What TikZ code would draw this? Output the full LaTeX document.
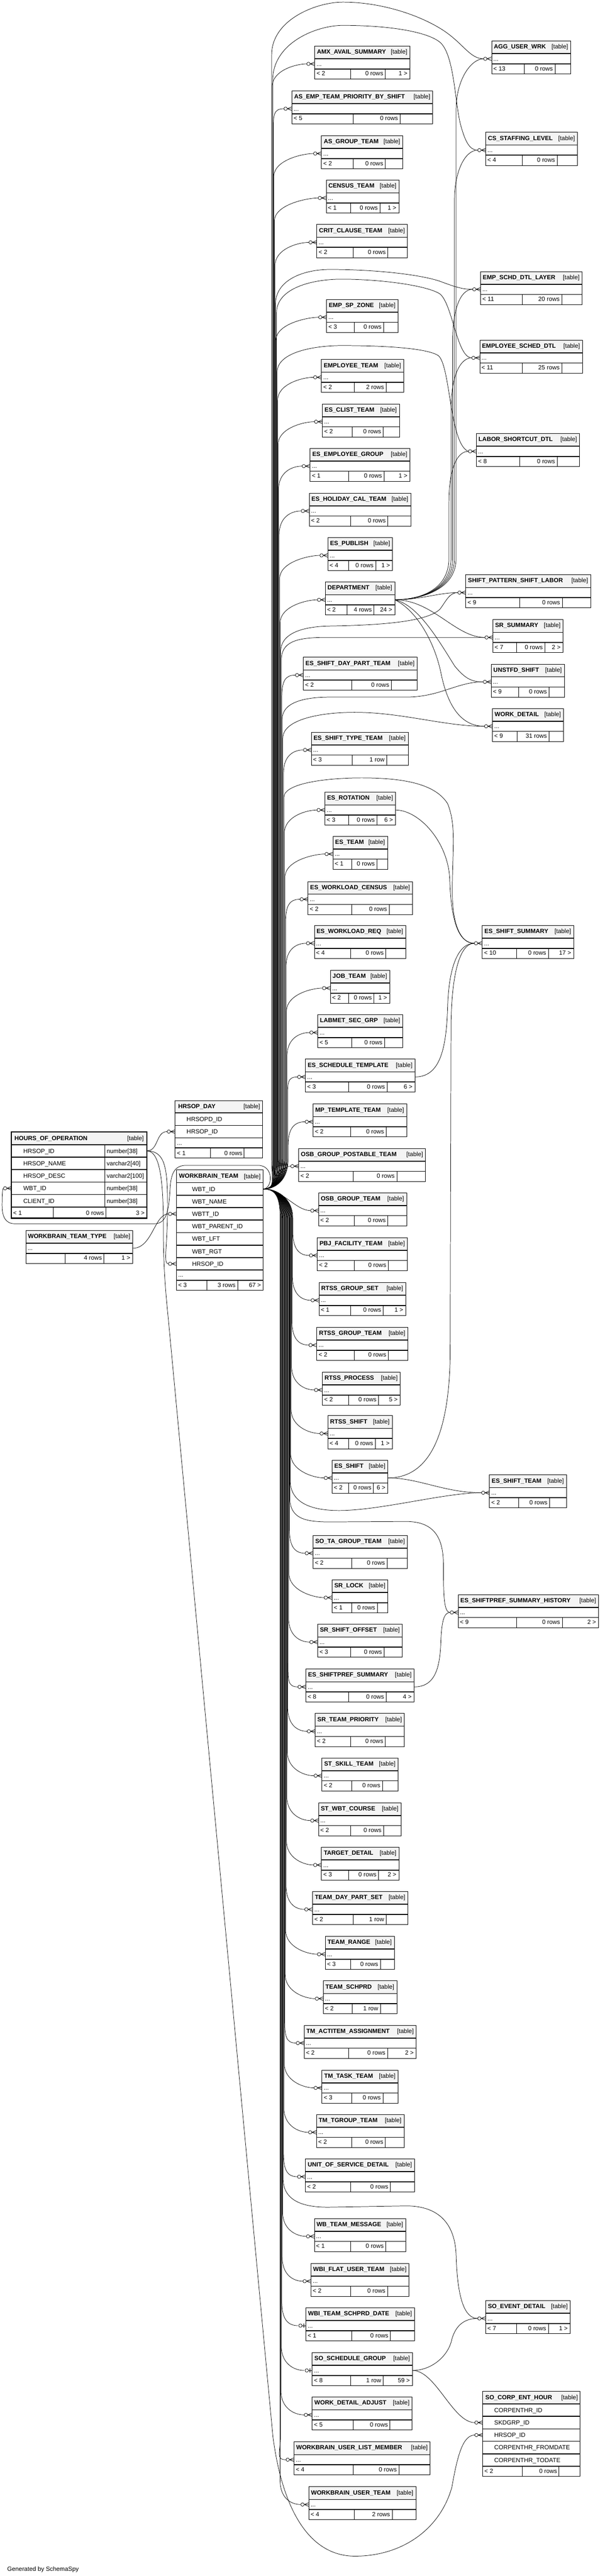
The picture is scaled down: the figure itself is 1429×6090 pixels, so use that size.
\documentclass[tikz,border=0pt]{standalone}
\usepackage{fontspec}
\setmainfont{Liberation Sans}
\definecolor{headbg}{HTML}{F4F4F4}
\newcommand{\tfont}{\fontsize{14.4}{17}\selectfont}
% table with a "..." row: id, left, top, right, name, cell1, cell2, parents, rows, children
\newcommand{\tbl}[9]{%
  \def\tid{#1}\def\txa{#2}\def\tya{#3}\def\txb{#4}\def\tname{#5}%
  \def\tca{#6}\def\tcb{#7}\def\tleft{#8}\def\trows{#9}\tblrest}
\newcommand{\tblrest}[1]{%
  \fill[white] (\txa,\tya) rectangle (\txb,\tya+78);
  \fill[headbg] (\txa,\tya) rectangle (\txb,\tya+30);
  \draw[rowsep] (\txa,\tya+30) -- (\txb,\tya+30) (\txa,\tya+54) -- (\txb,\tya+54);
  \draw[cellsep] (\tca,\tya+54) -- (\tca,\tya+78) (\tcb,\tya+54) -- (\tcb,\tya+78);
  \node[tablebox,minimum width={(\txb-\txa)*1pt},minimum height=78pt] (\tid) at (\txa,\tya) {};
  \node[txt,font=\tfont\bfseries] (\tid-n) at (\txa+5,\tya+18.5) {\tname};
  \node[txt,anchor=base east] (\tid-tb) at (\txb-6,\tya+18.5) {[table]};
  \node[txt] (\tid-d) at (\txa+4,\tya+47) {...};
  \node[txt] (\tid-l) at (\txa+4,\tya+70) {\tleft};
  \node[txt,anchor=base east] (\tid-c) at (\tcb-5,\tya+70) {\trows};
  \node[txt,anchor=base east] (\tid-r) at (\txb-6,\tya+70) {#1};
  \coordinate (\tid-w) at (\txa,\tya+42);
  \coordinate (\tid-in) at (\txa-19,\tya+42);
  \coordinate (\tid-out) at (\txb,\tya+42);
}

\begin{document}
\begin{tikzpicture}[x=1pt,y=-1pt,
    tablebox/.style={draw,line width=1.2pt,anchor=north west,inner sep=0pt,outer sep=0pt},
    rowsep/.style={line width=2pt},
    cellsep/.style={line width=1.2pt},
    txt/.style={anchor=base west,inner sep=0pt,font=\tfont},
    fk/.style={line width=0.9pt},
    crowfoot/.pic={\draw[fk,fill=white] (-15,0) circle (4pt);
      \draw[fk] (-11,0) -- (0,0) (-11,0) -- (0,-4.5) (-11,0) -- (0,4.5);},
    zeroone/.pic={\draw[fk,fill=white] (-13,0) circle (4pt);
      \draw[fk] (-9,0) -- (0,0); \draw[line width=1.6pt] (-5,-5) -- (-5,5);}]
  \fill[white] (0,0) rectangle (1429,6090);
  \useasboundingbox (0,0) rectangle (1429,6090);

  % HOURS_OF_OPERATION
  \fill[white] (27,2676) rectangle (347,2880);
  \fill[headbg] (27,2676) rectangle (347,2706);
  \foreach \yy in {2706,2735.5,2765,2794.5,2824,2853.5} \draw[rowsep] (27,\yy) -- (347,\yy);
  \draw[cellsep] (248,2706) -- (248,2853.5) (126,2853.5) -- (126,2880) (250,2853.5) -- (250,2880);
  \node[tablebox,line width=3pt,minimum width=320pt,minimum height=204pt] (hoo) at (27,2676) {};
  \node[txt,font=\tfont\bfseries] (hoo-n) at (34,2695.5) {HOURS\_OF\_OPERATION};
  \node[txt,anchor=base east] (hoo-tb) at (340,2696) {[table]};
  \foreach \nm/\ty [count=\i] in {HRSOP\_ID/number[38],HRSOP\_NAME/varchar2[40],HRSOP\_DESC/varchar2[100],WBT\_ID/number[38],CLIENT\_ID/number[38]} {
    \node[txt] (hoo-col\i) at (55,2696.5+\i*29.5) {\nm};
    \node[txt] (hoo-typ\i) at (252,2696.5+\i*29.5) {\ty};
  }
  \node[txt] (hoo-l) at (31,2872.5) {< 1};
  \node[txt,anchor=base east] (hoo-cnt) at (246,2872.5) {0 rows};
  \node[txt,anchor=base east] (hoo-r) at (342,2872.5) {3 >};
  \coordinate (hoo-hrs) at (347,2720.75);
  \coordinate (hoo-wbt-w) at (27,2809.25);
  \coordinate (hoo-wbt-in) at (8,2809.25);

  % HRSOP_DAY
  \fill[white] (414,2602) rectangle (621,2738);
  \fill[headbg] (414,2602) rectangle (621,2631);
  \draw[rowsep] (414,2631) -- (621,2631) (414,2660.5) -- (621,2660.5) (414,2690) -- (621,2690) (414,2714) -- (621,2714);
  \draw[cellsep] (497,2714) -- (497,2738) (577,2714) -- (577,2738);
  \node[tablebox,minimum width=207pt,minimum height=136pt] (hday) at (414,2602) {};
  \node[txt,font=\tfont\bfseries] (hday-n) at (421,2620) {HRSOP\_DAY};
  \node[txt,anchor=base east] (hday-tb) at (615,2620) {[table]};
  \node[txt] (hday-col1) at (441,2651) {HRSOPD\_ID};
  \node[txt] (hday-col2) at (441,2680.5) {HRSOP\_ID};
  \node[txt] (hday-d) at (418,2707) {...};
  \node[txt] (hday-l) at (418,2731) {< 1};
  \node[txt,anchor=base east] (hday-cnt) at (573,2731) {0 rows};
  \coordinate (hday-hrs-w) at (414,2675.25);
  \coordinate (hday-hrs-in) at (395,2675.25);

  % WORKBRAIN_TEAM
  \fill[white] (417,2766) rectangle (622,3050.5);
  \fill[headbg] (417,2766) rectangle (622,2796);
  \foreach \yy in {2796,2825.5,2855,2884.5,2914,2943.5,2973,3002.5,3026.5} \draw[rowsep] (417,\yy) -- (622,\yy);
  \draw[cellsep] (489,3026.5) -- (489,3050.5) (562,3026.5) -- (562,3050.5);
  \node[tablebox,minimum width=205pt,minimum height=284.5pt] (wt) at (417,2766) {};
  \node[txt,font=\tfont\bfseries] (wt-n) at (423,2785.5) {WORKBRAIN\_TEAM};
  \node[txt,anchor=base east] (wt-tb) at (616,2786) {[table]};
  \foreach \nm [count=\i] in {WBT\_ID,WBT\_NAME,WBTT\_ID,WBT\_PARENT\_ID,WBT\_LFT,WBT\_RGT,HRSOP\_ID}
    \node[txt] (wt-col\i) at (454,2786.5+\i*29.5) {\nm};
  \node[txt] (wt-d) at (421,3019) {...};
  \node[txt] (wt-l) at (421,3043.5) {< 3};
  \node[txt,anchor=base east] (wt-cnt) at (557,3043.5) {3 rows};
  \node[txt,anchor=base east] (wt-r) at (617,3043.5) {67 >};
  \coordinate (wt-out) at (622,2810.75);
  \coordinate (wt-wbtt-w) at (417,2869.75);
  \coordinate (wt-wbtt-in) at (398,2869.75);
  \coordinate (wt-hrs-w) at (417,2987.75);
  \coordinate (wt-hrs-in) at (398,2987.75);

  % SO_CORP_ENT_HOUR
  \fill[white] (1141,5653) rectangle (1371,5854.5);
  \fill[headbg] (1141,5653) rectangle (1371,5683);
  \foreach \yy in {5683,5712.5,5742,5771.5,5801,5830.5} \draw[rowsep] (1141,\yy) -- (1371,\yy);
  \draw[cellsep] (1235,5830.5) -- (1235,5854.5) (1321,5830.5) -- (1321,5854.5);
  \node[tablebox,minimum width=230pt,minimum height=201.5pt] (soc) at (1141,5653) {};
  \node[txt,font=\tfont\bfseries] (soc-n) at (1147,5672.5) {SO\_CORP\_ENT\_HOUR};
  \node[txt,anchor=base east] (soc-tb) at (1366,5673) {[table]};
  \foreach \nm [count=\i] in {CORPENTHR\_ID,SKDGRP\_ID,HRSOP\_ID,CORPENTHR\_FROMDATE,CORPENTHR\_TODATE}
    \node[txt] (soc-col\i) at (1168,5673.5+\i*29.5) {\nm};
  \node[txt] (soc-l) at (1145,5847.5) {< 2};
  \node[txt,anchor=base east] (soc-cnt) at (1317,5847.5) {0 rows};
  \coordinate (soc-skd-w) at (1141,5727.25);
  \coordinate (soc-skd-in) at (1122,5727.25);
  \coordinate (soc-hrs-w) at (1141,5756.75);
  \coordinate (soc-hrs-in) at (1122,5756.75);

  % left
  \tbl{wtt}{61}{2909}{314}{WORKBRAIN\_TEAM\_TYPE}{154}{246}{}{4 rows}{1 >}

  % middle column
  \tbl{amx}{744}{109}{969}{AMX\_AVAIL\_SUMMARY}{829}{911}{< 2}{0 rows}{1 >}
  \tbl{asemp}{690}{215}{1023}{AS\_EMP\_TEAM\_PRIORITY\_BY\_SHIFT}{835}{946}{< 5}{0 rows}{}
  \tbl{asgrp}{760}{321}{952}{AS\_GROUP\_TEAM}{835}{911}{< 2}{0 rows}{}
  \tbl{census}{771}{426}{943}{CENSUS\_TEAM}{829}{898}{< 1}{0 rows}{1 >}
  \tbl{crit}{749}{531}{963}{CRIT\_CLAUSE\_TEAM}{835}{917}{< 2}{0 rows}{}
  \tbl{spzone}{772}{708}{941}{EMP\_SP\_ZONE}{837}{907}{< 3}{0 rows}{}
  \tbl{empteam}{760}{850}{954}{EMPLOYEE\_TEAM}{837}{913}{< 2}{2 rows}{}
  \tbl{clist}{762}{955}{944}{ES\_CLIST\_TEAM}{833}{906}{< 2}{0 rows}{}
  \tbl{empgrp}{733}{1060}{969}{ES\_EMPLOYEE\_GROUP}{824}{908}{< 1}{0 rows}{1 >}
  \tbl{holcal}{731}{1166}{971}{ES\_HOLIDAY\_CAL\_TEAM}{829}{917}{< 2}{0 rows}{}
  \tbl{publish}{775}{1271}{928}{ES\_PUBLISH}{824}{888}{< 4}{0 rows}{1 >}
  \tbl{dept}{769}{1376}{933}{DEPARTMENT}{820}{884}{< 2}{4 rows}{24 >}
  \tbl{daypart}{717}{1554}{986}{ES\_SHIFT\_DAY\_PART\_TEAM}{831}{925}{< 2}{0 rows}{}
  \tbl{shtype}{736}{1731}{965}{ES\_SHIFT\_TYPE\_TEAM}{833}{914}{< 3}{1 row}{}
  \tbl{rotation}{768}{1873}{935}{ES\_ROTATION}{824}{891}{< 3}{0 rows}{6 >}
  \tbl{esteam}{787}{1977}{916}{ES\_TEAM}{831}{891}{< 1}{0 rows}{}
  \tbl{wlcensus}{728}{2084}{975}{ES\_WORKLOAD\_CENSUS}{831}{920}{< 2}{0 rows}{}
  \tbl{wlreq}{743}{2188}{959}{ES\_WORKLOAD\_REQ}{829}{912}{< 4}{0 rows}{}
  \tbl{jobteam}{781}{2294}{921}{JOB\_TEAM}{824}{884}{< 2}{0 rows}{1 >}
  \tbl{labmet}{751}{2399}{952}{LABMET\_SEC\_GRP}{831}{909}{< 5}{0 rows}{}
  \tbl{schtmpl}{722}{2504}{981}{ES\_SCHEDULE\_TEMPLATE}{824}{915}{< 3}{0 rows}{6 >}
  \tbl{mptmpl}{740}{2610}{961}{MP\_TEMPLATE\_TEAM}{829}{913}{< 2}{0 rows}{}
  \tbl{osbpost}{706}{2715}{1006}{OSB\_GROUP\_POSTABLE\_TEAM}{835}{938}{< 2}{0 rows}{}
  \tbl{osbgrp}{753}{2820}{961}{OSB\_GROUP\_TEAM}{837}{917}{< 2}{0 rows}{}
  \tbl{pbj}{750}{2926}{963}{PBJ\_FACILITY\_TEAM}{837}{918}{< 2}{0 rows}{}
  \tbl{rtssset}{754}{3032}{959}{RTSS\_GROUP\_SET}{829}{906}{< 1}{0 rows}{1 >}
  \tbl{rtssgrp}{749}{3138}{964}{RTSS\_GROUP\_TEAM}{837}{918}{< 2}{0 rows}{}
  \tbl{rtssproc}{762}{3244}{946}{RTSS\_PROCESS}{824}{895}{< 2}{0 rows}{5 >}
  \tbl{rtssshift}{775}{3347}{927}{RTSS\_SHIFT}{824}{887}{< 4}{0 rows}{1 >}
  \tbl{esshift}{785}{3452}{917}{ES\_SHIFT}{824}{883}{< 2}{0 rows}{6 >}
  \tbl{sota}{740}{3630}{963}{SO\_TA\_GROUP\_TEAM}{831}{915}{< 2}{0 rows}{}
  \tbl{srlock}{785}{3735}{917}{SR\_LOCK}{831}{892}{< 1}{0 rows}{}
  \tbl{sroffset}{751}{3840}{951}{SR\_SHIFT\_OFFSET}{829}{908}{< 3}{0 rows}{}
  \tbl{prefsum}{723}{3946}{979}{ES\_SHIFTPREF\_SUMMARY}{824}{913}{< 8}{0 rows}{4 >}
  \tbl{srprio}{745}{4051}{956}{SR\_TEAM\_PRIORITY}{829}{911}{< 2}{0 rows}{}
  \tbl{stskill}{761}{4156}{941}{ST\_SKILL\_TEAM}{831}{904}{< 2}{0 rows}{}
  \tbl{stwbt}{753}{4262}{948}{ST\_WBT\_COURSE}{829}{907}{< 2}{0 rows}{}
  \tbl{target}{760}{4367}{943}{TARGET\_DETAIL}{824}{895}{< 3}{0 rows}{2 >}
  \tbl{daypartset}{739}{4472}{964}{TEAM\_DAY\_PART\_SET}{835}{913}{< 2}{1 row}{}
  \tbl{range}{769}{4578}{932}{TEAM\_RANGE}{829}{899}{< 3}{0 rows}{}
  \tbl{schprd}{764}{4683}{938}{TEAM\_SCHPRD}{833}{899}{< 2}{1 row}{}
  \tbl{actitem}{719}{4788}{984}{TM\_ACTITEM\_ASSIGNMENT}{824}{916}{< 2}{0 rows}{2 >}
  \tbl{tmtask}{761}{4894}{941}{TM\_TASK\_TEAM}{831}{905}{< 3}{0 rows}{}
  \tbl{tmtgrp}{748}{4999}{955}{TM\_TGROUP\_TEAM}{831}{911}{< 2}{0 rows}{}
  \tbl{uos}{722}{5104}{980}{UNIT\_OF\_SERVICE\_DETAIL}{829}{923}{< 2}{0 rows}{}
  \tbl{wbmsg}{743}{5245}{959}{WB\_TEAM\_MESSAGE}{829}{912}{< 1}{0 rows}{}
  \tbl{wbiflat}{735}{5351}{967}{WBI\_FLAT\_USER\_TEAM}{829}{916}{< 2}{0 rows}{}
  \tbl{wbischprd}{723}{5456}{980}{WBI\_TEAM\_SCHPRD\_DATE}{831}{923}{< 1}{0 rows}{}
  \tbl{sosched}{738}{5562}{975}{SO\_SCHEDULE\_GROUP}{829}{906}{< 8}{1 row}{59 >}
  \tbl{wdadj}{738}{5667}{974}{WORK\_DETAIL\_ADJUST}{835}{922}{< 5}{0 rows}{}
  \tbl{ulist}{695}{5773}{1017}{WORKBRAIN\_USER\_LIST\_MEMBER}{835}{943}{< 4}{0 rows}{}
  \tbl{uteam}{730}{5879}{983}{WORKBRAIN\_USER\_TEAM}{837}{927}{< 4}{2 rows}{}

  % right column
  \tbl{agg}{1162}{97}{1349}{AGG\_USER\_WRK}{1239}{1312}{< 13}{0 rows}{}
  \tbl{csstaff}{1148}{313}{1365}{CS\_STAFFING\_LEVEL}{1235}{1317}{< 4}{0 rows}{}
  \tbl{schdlayer}{1136}{642}{1376}{EMP\_SCHD\_DTL\_LAYER}{1235}{1328}{< 11}{20 rows}{}
  \tbl{schddtl}{1134}{804}{1377}{EMPLOYEE\_SCHED\_DTL}{1234}{1328}{< 11}{25 rows}{}
  \tbl{labor}{1126}{1025}{1370}{LABOR\_SHORTCUT\_DTL}{1228}{1317}{< 8}{0 rows}{}
  \tbl{pattern}{1101}{1359}{1396}{SHIFT\_PATTERN\_SHIFT\_LABOR}{1228}{1329}{< 9}{0 rows}{}
  \tbl{srsum}{1165}{1465}{1331}{SR\_SUMMARY}{1221}{1288}{< 7}{0 rows}{2 >}
  \tbl{unstfd}{1161}{1570}{1334}{UNSTFD\_SHIFT}{1226}{1298}{< 9}{0 rows}{}
  \tbl{wdetail}{1164}{1675}{1332}{WORK\_DETAIL}{1222}{1298}{< 9}{31 rows}{}
  \tbl{shsum}{1140}{2188}{1356}{ES\_SHIFT\_SUMMARY}{1221}{1296}{< 10}{0 rows}{17 >}
  \tbl{shteam}{1157}{3487}{1339}{ES\_SHIFT\_TEAM}{1226}{1299}{< 2}{0 rows}{}
  \tbl{prefhist}{1083}{3770}{1415}{ES\_SHIFTPREF\_SUMMARY\_HISTORY}{1221}{1329}{< 9}{0 rows}{2 >}
  \tbl{sevent}{1148}{5439}{1348}{SO\_EVENT\_DETAIL}{1221}{1296}{< 7}{0 rows}{1 >}

  \node[txt] (gen) at (17,6078) {Generated by SchemaSpy};

  % WORKBRAIN_TEAM.WBT_ID up the trunk
  \foreach \tb/\yv/\xt in {amx/109/643,asemp/215/646,asgrp/321/647,census/426/648.5,crit/531/650,
      spzone/708/652,empteam/850/656,clist/955/657,empgrp/1060/658.5,holcal/1166/660,publish/1271/661,
      dept/1376/662,daypart/1554/666,shtype/1731/670,rotation/1873/672,esteam/1977/673.5,
      wlcensus/2084/675,wlreq/2188/676,jobteam/2294/677,labmet/2399/678.5,schtmpl/2504/680,mptmpl/2610/681}
    \draw[fk] (wt-out) .. controls +(30,0) and +(0,50) .. (\xt,2740) -- (\xt,\yv+97)
      .. controls +(0,-40) and +(-25,0) .. (\tb-in);
  % and down the trunk
  \foreach \tb/\yv/\xt in {pbj/2926/692,rtssset/3032/691,rtssgrp/3138/690,rtssproc/3244/689,
      rtssshift/3347/688,esshift/3452/687,sota/3630/684,srlock/3735/683,sroffset/3840/682,
      prefsum/3946/681,srprio/4051/680,stskill/4156/679,stwbt/4262/678,target/4367/677,
      daypartset/4472/676,range/4578/675,schprd/4683/674,actitem/4788/673,tmtask/4894/672,
      tmtgrp/4999/671,uos/5104/670,wbmsg/5245/668,wbiflat/5351/667,wbischprd/5456/666,
      sosched/5562/665,wdadj/5667/664,ulist/5773/663,uteam/5879/662}
    \draw[fk] (wt-out) .. controls +(30,0) and +(0,-50) .. (\xt,2880) -- (\xt,\yv-15)
      .. controls +(0,40) and +(-25,0) .. (\tb-in);
  \draw[fk] (wt-out) .. controls +(35,0) and +(-30,0) .. (osbpost-in);
  \draw[fk] (wt-out) .. controls +(45,0) and +(-35,0) .. (osbgrp-in);

  % arcs to the right column
  \draw[fk] (wt-out) .. controls +(30,0) and +(0,50) .. (642,2740) -- (642,130)
    .. controls (642,45) and (750,5) .. (810,5) .. controls (900,5) and (990,35) .. (1045,70)
    .. controls (1095,102) and (1110,139) .. (agg-in);
  \draw[fk] (wt-out) .. controls +(30,0) and +(0,50) .. (644.5,2740) -- (644.5,190)
    .. controls (644.5,100) and (750,60) .. (810,60) .. controls (920,60) and (1010,75) .. (1040,100)
    .. controls (1075,130) and (1075,250) .. (1090,300) .. controls (1100,335) and (1110,355) .. (csstaff-in);
  \draw[fk] (wt-out) .. controls +(30,0) and +(0,50) .. (651,2740) -- (651,720)
    .. controls (651,660) and (720,637) .. (780,637) .. controls (880,637) and (990,648) .. (1040,665)
    .. controls (1080,680) and (1095,684) .. (schdlayer-in);
  \draw[fk] (wt-out) .. controls +(30,0) and +(0,50) .. (653.5,2740) -- (653.5,740)
    .. controls (653.5,680) and (740,660) .. (807,660) .. controls (900,660) and (1010,675) .. (1040,695)
    .. controls (1070,720) and (1080,846) .. (schddtl-in);
  \draw[fk] (wt-out) .. controls +(30,0) and +(0,50) .. (655,2740) -- (655,880)
    .. controls (655,830) and (750,817) .. (807,817) .. controls (900,817) and (1005,822) .. (1035,840)
    .. controls (1065,860) and (1062,1050) .. (labor-in);
  \draw[fk] (wt-out) .. controls +(30,0) and +(0,50) .. (663.5,2740) -- (663.5,1540)
    .. controls (663.5,1495) and (720,1481) .. (780,1480) .. controls (900,1478) and (1010,1470) .. (1040,1440)
    .. controls (1055,1420) and (1062,1401) .. (pattern-in);
  \draw[fk] (wt-out) .. controls +(30,0) and +(0,50) .. (665,2740) -- (665,1560)
    .. controls (665,1518) and (700,1508) .. (760,1507) -- (srsum-in);
  \draw[fk] (wt-out) .. controls +(30,0) and +(0,50) .. (667,2740) -- (667,1700)
    .. controls (667,1660) and (720,1648) .. (780,1648) -- (960,1648)
    .. controls (1040,1648) and (1080,1612) .. (unstfd-in);
  \draw[fk] (wt-out) .. controls +(30,0) and +(0,50) .. (668.5,2740) -- (668.5,1745)
    .. controls (668.5,1700) and (760,1684) .. (838,1684) .. controls (950,1684) and (1050,1717) .. (wdetail-in);
  \draw[fk] (wt-out) .. controls +(30,0) and +(0,50) .. (671,2740) -- (671,1885)
    .. controls (671,1850) and (780,1839) .. (854,1839) .. controls (960,1839) and (1030,1855) .. (1058,1900)
    .. controls (1078,1950) and (1070,2000) .. (1069,2100) .. controls (1068,2190) and (1090,2230) .. (shsum-in);
  \draw[fk] (wt-out) .. controls +(30,0) and +(0,-50) .. (686,2880) -- (686,3500)
    .. controls (686,3555) and (740,3571) .. (801,3571) .. controls (900,3571) and (1050,3529) .. (shteam-in);
  \draw[fk] (wt-out) .. controls +(30,0) and +(0,-50) .. (685,2880) -- (685,3540)
    .. controls (685,3590) and (720,3598) .. (780,3598) -- (960,3597)
    .. controls (1030,3597) and (1048,3640) .. (1048,3700) .. controls (1048,3780) and (1050,3812) .. (prefhist-in);
  \draw[fk] (wt-out) .. controls +(30,0) and +(0,-50) .. (669,2880) -- (669,5150)
    .. controls (669,5205) and (720,5219) .. (780,5218) -- (960,5215)
    .. controls (1040,5215) and (1075,5260) .. (1078,5330) .. controls (1081,5440) and (1100,5481) .. (sevent-in);

  % DEPARTMENT
  \foreach \tb/\xv/\yi in {agg/1078/139,csstaff/1074/355,schdlayer/1070/684,schddtl/1066/846,labor/1061/1067}
    \draw[fk] (dept-out) .. controls +(50,0) and +(0,80) .. (\xv,1320) -- (\xv,\yi+120)
      .. controls +(0,-70) and +(-30,0) .. (\tb-in);
  \draw[fk] (dept-out) .. controls +(60,0) and +(-45,0) .. (pattern-in);
  \draw[fk] (dept-out) .. controls +(90,0) and +(-70,0) .. (srsum-in);
  \draw[fk] (dept-out) .. controls (990,1430) and (1040,1520) .. (1075,1575)
    .. controls (1100,1605) and (1115,1612) .. (unstfd-in);
  \draw[fk] (dept-out) .. controls (980,1440) and (1025,1510) .. (1042,1590)
    .. controls (1058,1670) and (1090,1717) .. (wdetail-in);

  % schedule tables
  \draw[fk] (rotation-out) .. controls (990,1915) and (1060,1990) .. (1063,2080)
    .. controls (1066,2180) and (1085,2230) .. (shsum-in);
  \draw[fk] (schtmpl-out) .. controls (1040,2546) and (1055,2480) .. (1058,2380)
    .. controls (1061,2280) and (1085,2230) .. (shsum-in);
  \draw[fk] (esshift-out) .. controls (1000,3494) and (1062,3420) .. (1064,3200) -- (1066,2420)
    .. controls (1068,2290) and (1090,2230) .. (shsum-in);
  \draw[fk] (esshift-out) .. controls (990,3494) and (1050,3529) .. (shteam-in);
  \draw[fk] (prefsum-out) .. controls (1030,3988) and (1040,3940) .. (1042,3880)
    .. controls (1044,3830) and (1050,3812) .. (prefhist-in);
  \draw[fk] (sosched-out) .. controls (1020,5604) and (1060,5570) .. (1068,5530)
    .. controls (1078,5495) and (1100,5481) .. (sevent-in);
  \draw[fk] (sosched-out) .. controls (1030,5604) and (1070,5727) .. (soc-skd-in);

  % HOURS_OF_OPERATION
  \draw[fk] (hoo-hrs) .. controls (375,2721) and (368,2675) .. (hday-hrs-in);
  \draw[fk] (hoo-hrs) .. controls (390,2721) and (396,2760) .. (396,2850)
    .. controls (396,2950) and (385,2988) .. (wt-hrs-in);
  \draw[fk] (hoo-hrs) .. controls (380,2721) and (386,2800) .. (386,2900)
    .. controls (386,3000) and (392,3060) .. (398,3120) -- (645,5760)
    .. controls (670,5950) and (740,6043) .. (839,6043) .. controls (950,6043) and (1040,5980) .. (1068,5880)
    .. controls (1082,5800) and (1095,5757) .. (soc-hrs-in);
  \draw[fk] (wtt-out) .. controls (360,2951) and (365,2870) .. (wt-wbtt-in);
  \draw[fk] (wt-out) .. controls (645,2810) and (648,2755) .. (610,2755) -- (440,2755)
    .. controls (412,2755) and (404,2775) .. (402,2810) .. controls (399,2860) and (395,2893) .. (365,2893)
    -- (35,2893) .. controls (12,2893) and (5,2875) .. (5,2850) .. controls (5,2825) and (6,2809) .. (hoo-wbt-in);

  % crow's feet
  \foreach \tb in {amx,asemp,asgrp,census,crit,spzone,empteam,clist,empgrp,holcal,publish,dept,daypart,
      shtype,rotation,esteam,wlcensus,wlreq,jobteam,labmet,schtmpl,mptmpl,osbpost,osbgrp,pbj,rtssset,
      rtssgrp,rtssproc,rtssshift,esshift,sota,srlock,sroffset,prefsum,srprio,stskill,stwbt,target,
      daypartset,range,schprd,actitem,tmtask,tmtgrp,uos,wbmsg,wbiflat,wdadj,ulist,uteam,
      agg,csstaff,schdlayer,schddtl,labor,pattern,srsum,unstfd,wdetail,shsum,shteam,prefhist,sevent,
      hday-hrs,wt-wbtt,wt-hrs,hoo-wbt,soc-skd,soc-hrs}
    \pic at (\tb-w) {crowfoot};
  \foreach \tb in {wbischprd,sosched}
    \pic at (\tb-w) {zeroone};
\end{tikzpicture}
\end{document}
